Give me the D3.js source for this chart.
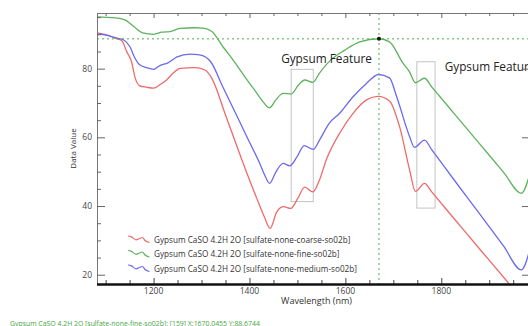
<!DOCTYPE html>
<html><head><meta charset="utf-8">
<script src="https://cdn.jsdelivr.net/npm/d3@7"></script>
<style>
html,body{margin:0;padding:0;background:#fff;overflow:hidden}
svg{display:block;font-family:"Open Sans",sans-serif}
</style></head><body>
<svg id="chart" width="528" height="326"></svg>
<script>
// Reflectance spectra of gypsum at three grain sizes: [wavelength nm, value]
const coarseSeries = [[1082,90.4],[1102,89.8],[1119,88.9],[1134,88.1],[1144,84.9],[1154,82.0],[1161,77.6],[1171,75.0],[1185,74.6],[1200,74.3],[1213,75.3],[1227,76.7],[1241,78.7],[1255,80.1],[1286,80.3],[1307,79.6],[1321,77.3],[1350,66.5],[1384,53.5],[1415,42.3],[1432,36.5],[1443,33.5],[1457,38.3],[1471,39.8],[1486,39.3],[1501,42.3],[1515,45.5],[1532,44.1],[1546,47.6],[1560,53.4],[1588,61.2],[1616,67.0],[1644,70.9],[1668,71.9],[1692,70.6],[1713,63.1],[1734,50.5],[1746,44.2],[1765,46.6],[1780,44.1],[1830,35.8],[1880,27.5],[1937,18.1],[1967,13.1],[1985,19.0]];
const fineSeries = [[1082,95.1],[1119,94.8],[1140,94.2],[1160,92.1],[1177,90.4],[1200,90.0],[1217,90.6],[1234,90.8],[1255,91.7],[1286,91.9],[1303,91.8],[1321,90.9],[1345,86.3],[1366,82.5],[1390,77.7],[1410,73.9],[1428,70.4],[1442,68.6],[1455,70.9],[1470,72.8],[1487,72.6],[1501,75.0],[1515,76.7],[1532,76.0],[1546,78.7],[1567,82.2],[1599,85.4],[1630,87.8],[1670,88.7],[1692,87.8],[1720,81.6],[1734,79.0],[1746,75.9],[1765,77.2],[1780,74.7],[1830,66.4],[1880,58.1],[1930,49.8],[1967,43.7],[1985,49.5]];
const mediumSeries = [[1082,90.1],[1109,89.5],[1124,88.9],[1137,88.4],[1151,86.3],[1160,83.4],[1171,81.1],[1185,80.3],[1200,79.8],[1213,80.9],[1230,81.7],[1249,83.4],[1276,84.2],[1296,84.0],[1319,82.0],[1345,74.5],[1370,67.3],[1395,60.0],[1421,52.5],[1432,48.9],[1442,46.6],[1455,49.9],[1470,52.4],[1484,51.7],[1499,54.3],[1514,57.6],[1533,56.5],[1546,59.2],[1567,64.2],[1588,67.0],[1616,71.8],[1644,75.7],[1669,78.3],[1692,77.3],[1707,71.8],[1734,60.2],[1744,57.1],[1765,59.2],[1780,56.4],[1830,47.0],[1880,37.7],[1930,28.3],[1967,21.4],[1985,27.5]];

const seriesNames = [
  "Gypsum CaSO 4.2H 2O [sulfate-none-coarse-so02b]",
  "Gypsum CaSO 4.2H 2O [sulfate-none-fine-so02b]",
  "Gypsum CaSO 4.2H 2O [sulfate-none-medium-so02b]"
];
const seriesColors = ["#ef6b6b", "#5db35d", "#6a6af0"];

const wavelengthTicks = [1200, 1400, 1600, 1800];
const valueTicks = [20, 40, 60, 80];

// Absorption feature bands: [start nm, end nm, low value, high value]
const featureBands = [[1487, 1533, 41.3, 79.8], [1749, 1787, 39.4, 82.0]];
const featureLabels = ["Gypsum Feature", "Gypsum Feature"];
const featureLabelAnchors = [[1466, 81.7], [1807, 79.3]];

// Cursor readout on the fine-grained spectrum
const cursorIndex = 159;
const cursorWavelength = 1670.0455;
const cursorValue = 88.6744;

const W = 528, H = 326;
const x = d3.scaleLinear().domain([1082, 1985]).range([97, 530]);
const y = d3.scaleLinear().domain([17.3, 96.2]).range([284, 13]);
const [x0, x1] = x.range();
const [yb, yt] = y.range();

const svg = d3.select("#chart");

svg.append("defs").append("clipPath").attr("id", "plotClip")
  .append("rect").attr("x", x0).attr("y", yt).attr("width", x1 - x0).attr("height", yb - yt);

// feature boxes
svg.append("g").selectAll("rect").data(featureBands).join("rect")
  .attr("x", d => x(d[0])).attr("y", d => y(d[3]))
  .attr("width", d => x(d[1]) - x(d[0])).attr("height", d => y(d[2]) - y(d[3]))
  .attr("fill", "none").attr("stroke", "#c4c4c4").attr("stroke-width", 1);

// spectra
const line = d3.line().x(d => x(d[0])).y(d => y(d[1])).curve(d3.curveMonotoneX);
const allSeries = [coarseSeries, fineSeries, mediumSeries];
svg.append("g").attr("clip-path", "url(#plotClip)")
  .selectAll("path").data(allSeries).join("path")
  .attr("d", line).attr("fill", "none")
  .attr("stroke", (d, i) => seriesColors[i]).attr("stroke-width", 1.3);

// cursor crosshair
const cx = x(cursorWavelength), cy = y(cursorValue);
svg.append("line").attr("x1", x0).attr("x2", W).attr("y1", cy).attr("y2", cy)
  .attr("stroke", "#4fae4f").attr("stroke-width", 1).attr("stroke-dasharray", "2,3");
svg.append("line").attr("x1", cx).attr("x2", cx).attr("y1", yt).attr("y2", yb)
  .attr("stroke", "#4fae4f").attr("stroke-width", 1).attr("stroke-dasharray", "2,3");
svg.append("circle").attr("cx", cx).attr("cy", cy).attr("r", 2).attr("fill", "#111");

// feature labels
svg.append("g").selectAll("text").data(featureLabelAnchors).join("text")
  .attr("x", d => x(d[0])).attr("y", d => y(d[1]))
  .attr("font-size", 11.8).attr("fill", "#222")
  .text((d, i) => featureLabels[i]);

// axes
const minorX = d3.range(1100, 1986, 50).filter(v => !wavelengthTicks.includes(v));
const minorY = d3.range(20, 96, 5).filter(v => !valueTicks.includes(v));
const axes = svg.append("g");

// top frame
axes.append("line").attr("x1", x0).attr("x2", W).attr("y1", yt + 0.5).attr("y2", yt + 0.5)
  .attr("stroke", "#777");
axes.selectAll(".tt").data(wavelengthTicks.concat(minorX)).join("line")
  .attr("x1", d => x(d) + 0.5).attr("x2", d => x(d) + 0.5)
  .attr("y1", yt).attr("y2", d => yt + (wavelengthTicks.includes(d) ? 5 : 3))
  .attr("stroke", "#666");

// left axis
axes.append("line").attr("x1", x0 + 0.5).attr("x2", x0 + 0.5).attr("y1", yt).attr("y2", yb)
  .attr("stroke", "#777");
axes.selectAll(".lt").data(valueTicks.concat(minorY)).join("line")
  .attr("y1", d => y(d) + 0.5).attr("y2", d => y(d) + 0.5)
  .attr("x1", x0).attr("x2", d => x0 + (valueTicks.includes(d) ? 8 : 4))
  .attr("stroke", "#666");
axes.selectAll(".ll").data(valueTicks).join("text")
  .attr("x", x0 - 5).attr("y", d => y(d)).attr("dy", "0.35em")
  .attr("text-anchor", "end").attr("font-size", 8.5).attr("fill", "#444")
  .text(d => d);

// right-side ticks
axes.selectAll(".rt").data(valueTicks).join("line")
  .attr("y1", d => y(d) + 0.5).attr("y2", d => y(d) + 0.5)
  .attr("x1", x1 - 8).attr("x2", x1).attr("stroke", "#666");

// bottom axis
axes.selectAll(".bt").data(wavelengthTicks.concat(minorX)).join("line")
  .attr("x1", d => x(d) + 0.5).attr("x2", d => x(d) + 0.5)
  .attr("y1", yb).attr("y2", d => yb - (wavelengthTicks.includes(d) ? 6 : 4))
  .attr("stroke", "#444");
axes.append("line").attr("x1", x0).attr("x2", W).attr("y1", yb + 0.5).attr("y2", yb + 0.5)
  .attr("stroke", "#111").attr("stroke-width", 2.5);
axes.selectAll(".bl").data(wavelengthTicks).join("text")
  .attr("x", d => x(d)).attr("y", yb + 10)
  .attr("text-anchor", "middle").attr("font-size", 8.5).attr("fill", "#444")
  .text(d => d);

// axis titles
svg.append("text").attr("transform", `translate(76,${(yt + yb) / 2}) rotate(-90)`)
  .attr("text-anchor", "middle").attr("font-size", 8).attr("fill", "#333").text("Data Value");
svg.append("text").attr("x", 316.5).attr("y", 304)
  .attr("text-anchor", "middle").attr("font-size", 9).attr("fill", "#333").text("Wavelength (nm)");

// legend
const wiggle = [[0,0],[3,0.6],[8,3.8],[12,2.2],[14.5,1.5],[17,4.5],[21.5,6.5]];
const legendLine = d3.line().curve(d3.curveMonotoneX);
const legend = svg.append("g").attr("transform", "translate(128,236)");
seriesNames.forEach((name, i) => {
  const g = legend.append("g").attr("transform", `translate(0,${i * 14.5})`);
  g.append("path").attr("d", legendLine(wiggle)).attr("fill", "none")
    .attr("stroke", seriesColors[i]).attr("stroke-width", 1.2);
  g.append("text").attr("x", 26).attr("y", 6.8).attr("font-size", 8.2)
    .attr("fill", "#333").text(name);
});

// cursor status line
svg.append("text").attr("x", 10).attr("y", 325.5).attr("font-size", 6.9).attr("fill", "#3fa83f")
  .text(`${seriesNames[1]}: [${cursorIndex}] X:${cursorWavelength.toFixed(4)} Y:${cursorValue.toFixed(4)}`);
</script>
</body></html>
